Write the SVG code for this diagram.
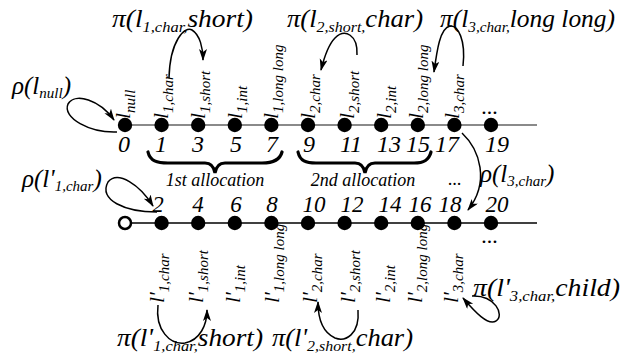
<svg xmlns="http://www.w3.org/2000/svg" width="630" height="354" viewBox="0 0 630 354">
  <style>
    .t { font-family: 'Liberation Serif', 'DejaVu Serif', serif; font-style: italic; fill: #000; }
    .num { font-size: 24px; text-anchor: middle; }
    .numb { font-size: 23px; text-anchor: middle; }
    .lab { font-size: 22px; }
    .big { font-size: 25px; }
    .s { font-size: 15px; }
    .alloc { font-size: 18px; text-anchor: middle; }
    .dot { fill: #000; }
    .arc { fill: none; stroke: #000; stroke-width: 1.5; }
    .brace { fill: none; stroke: #000; stroke-width: 3.2; stroke-linecap: round; }
  </style>
  <defs>
    <marker id="head" markerWidth="14" markerHeight="10" refX="11" refY="4" orient="auto" markerUnits="userSpaceOnUse">
      <path d="M0,0 L12,4 L0,8 L3,4 Z" fill="#000"/>
    </marker>
  </defs>

  <rect width="630" height="354" fill="#fff"/>

  <!-- memory rows -->
  <line x1="125" y1="125" x2="537" y2="125" stroke="#8a8a8a" stroke-width="2"/>
  <line x1="125" y1="223" x2="537" y2="223" stroke="#000" stroke-width="1.5"/>

  <g class="t" font-family="Liberation Serif, DejaVu Serif, serif" font-style="italic">
  <!-- upper row: slots 0..19 -->
  <g id="slot-0"><circle class="dot" cx="125" cy="125" r="7.2"/><text class="num" x="124" y="152">0</text>
    <text class="lab" transform="translate(130,119) rotate(-90)">l<tspan class="s" dy="5">null</tspan></text></g>
  <g id="slot-1"><circle class="dot" cx="161.6" cy="125" r="7.2"/><text class="num" x="161" y="152">1</text>
    <text class="lab" transform="translate(168,119) rotate(-90)">l<tspan class="s" dy="5">1,char</tspan></text></g>
  <g id="slot-3"><circle class="dot" cx="198.2" cy="125" r="7.2"/><text class="num" x="198" y="152">3</text>
    <text class="lab" transform="translate(205,119) rotate(-90)">l<tspan class="s" dy="5">1,short</tspan></text></g>
  <g id="slot-5"><circle class="dot" cx="234.8" cy="125" r="7.2"/><text class="num" x="236" y="152">5</text>
    <text class="lab" transform="translate(242,119) rotate(-90)">l<tspan class="s" dy="5">1,int</tspan></text></g>
  <g id="slot-7"><circle class="dot" cx="271.4" cy="125" r="7.2"/><text class="num" x="272" y="152">7</text>
    <text class="lab" transform="translate(278,119) rotate(-90)">l<tspan class="s" dy="5">1,long long</tspan></text></g>
  <g id="slot-9"><circle class="dot" cx="308" cy="125" r="7.2"/><text class="num" x="309" y="152">9</text>
    <text class="lab" transform="translate(315,119) rotate(-90)">l<tspan class="s" dy="5">2,char</tspan></text></g>
  <g id="slot-11"><circle class="dot" cx="344.6" cy="125" r="7.2"/><text class="num" x="351" y="152">11</text>
    <text class="lab" transform="translate(354,119) rotate(-90)">l<tspan class="s" dy="5">2,short</tspan></text></g>
  <g id="slot-13"><circle class="dot" cx="381.2" cy="125" r="7.2"/><text class="num" x="389" y="152">13</text>
    <text class="lab" transform="translate(391,119) rotate(-90)">l<tspan class="s" dy="5">2,int</tspan></text></g>
  <g id="slot-15"><circle class="dot" cx="417.8" cy="125" r="7.2"/><text class="num" x="418" y="152">15</text>
    <text class="lab" transform="translate(423,119) rotate(-90)">l<tspan class="s" dy="5">2,long long</tspan></text></g>
  <g id="slot-17"><circle class="dot" cx="454.4" cy="125" r="7.2"/><text class="num" x="447" y="152">17</text>
    <text class="lab" transform="translate(459,119) rotate(-90)">l<tspan class="s" dy="5">3,char</tspan></text></g>
  <g id="slot-19"><circle class="dot" cx="491" cy="125" r="7.2"/><text class="num" x="497" y="152">19</text>
    <text class="lab" x="490" y="114" text-anchor="middle">...</text></g>

  <!-- lower row: slots 2..20 -->
  <g id="slot-null"><circle cx="125" cy="223" r="6" fill="#fff" stroke="#000" stroke-width="2.5"/></g>
  <g id="slot-2"><circle class="dot" cx="161.6" cy="223" r="7.2"/><text class="numb" x="158" y="212">2</text>
    <text class="lab" transform="translate(164,303) rotate(-90)">l'<tspan class="s" dy="5">1,char</tspan></text></g>
  <g id="slot-4"><circle class="dot" cx="198.2" cy="223" r="7.2"/><text class="numb" x="198" y="212">4</text>
    <text class="lab" transform="translate(203,303) rotate(-90)">l'<tspan class="s" dy="5">1,short</tspan></text></g>
  <g id="slot-6"><circle class="dot" cx="234.8" cy="223" r="7.2"/><text class="numb" x="236" y="212">6</text>
    <text class="lab" transform="translate(240,303) rotate(-90)">l'<tspan class="s" dy="5">1,int</tspan></text></g>
  <g id="slot-8"><circle class="dot" cx="271.4" cy="223" r="7.2"/><text class="numb" x="272" y="212">8</text>
    <text class="lab" transform="translate(279,303) rotate(-90)">l'<tspan class="s" dy="5">1,long long</tspan></text></g>
  <g id="slot-10"><circle class="dot" cx="308" cy="223" r="7.2"/><text class="numb" x="314" y="212">10</text>
    <text class="lab" transform="translate(317,303) rotate(-90)">l'<tspan class="s" dy="5">2,char</tspan></text></g>
  <g id="slot-12"><circle class="dot" cx="344.6" cy="223" r="7.2"/><text class="numb" x="352" y="212">12</text>
    <text class="lab" transform="translate(355,303) rotate(-90)">l'<tspan class="s" dy="5">2,short</tspan></text></g>
  <g id="slot-14"><circle class="dot" cx="381.2" cy="223" r="7.2"/><text class="numb" x="390" y="212">14</text>
    <text class="lab" transform="translate(390,303) rotate(-90)">l'<tspan class="s" dy="5">2,int</tspan></text></g>
  <g id="slot-16"><circle class="dot" cx="417.8" cy="223" r="7.2"/><text class="numb" x="420" y="212">16</text>
    <text class="lab" transform="translate(422,303) rotate(-90)">l'<tspan class="s" dy="5">2,long long</tspan></text></g>
  <g id="slot-18"><circle class="dot" cx="454.4" cy="223" r="7.2"/><text class="numb" x="450" y="212">18</text>
    <text class="lab" transform="translate(458,303) rotate(-90)">l'<tspan class="s" dy="5">3,char</tspan></text></g>
  <g id="slot-20"><circle class="dot" cx="491" cy="223" r="7.2"/><text class="numb" x="497" y="212">20</text>
    <text class="lab" x="490" y="243" text-anchor="middle">...</text></g>

  <!-- allocation braces -->
  <g id="alloc-1">
    <path class="brace" d="M148,152 C150,161 157,163 168,163 L205,163 C211,163 214,167 215,173 C216,167 219,163 225,163 L262,163 C273,163 280,160 282,152"/>
    <text class="alloc" x="215" y="186">1st allocation</text>
  </g>
  <g id="alloc-2">
    <path class="brace" d="M298,152 C300,161 306,163 316,163 L355,163 C361,163 364,167 365,173 C366,167 369,163 375,163 L414,163 C424,163 429,160 431,152"/>
    <text class="alloc" x="363" y="186">2nd allocation</text>
  </g>
  <text class="alloc" x="455" y="185">...</text>

  <!-- operation labels -->
  <g id="ops">
    <text class="big" x="112" y="27" textLength="141" lengthAdjust="spacingAndGlyphs">π(l<tspan class="s" dy="5">1,char,</tspan><tspan dy="-5">short)</tspan></text>
    <text class="big" x="287" y="27" textLength="136" lengthAdjust="spacingAndGlyphs">π(l<tspan class="s" dy="5">2,short,</tspan><tspan dy="-5">char)</tspan></text>
    <text class="big" x="440" y="27" textLength="175" lengthAdjust="spacingAndGlyphs">π(l<tspan class="s" dy="5">3,char,</tspan><tspan dy="-5">long long)</tspan></text>
    <text class="big" x="12" y="94">ρ(l<tspan class="s" dy="4">null</tspan><tspan dy="-4">)</tspan></text>
    <text class="big" x="22" y="187">ρ(l'<tspan class="s" dy="4">1,char</tspan><tspan dy="-4">)</tspan></text>
    <text class="big" x="480" y="182">ρ(l<tspan class="s" dy="4">3,char</tspan><tspan dy="-4">)</tspan></text>
    <text class="big" x="473" y="296" textLength="147" lengthAdjust="spacingAndGlyphs">π(l'<tspan class="s" dy="5">3,char,</tspan><tspan dy="-5">child)</tspan></text>
    <text class="big" x="117" y="346" textLength="146" lengthAdjust="spacingAndGlyphs">π(l'<tspan class="s" dy="5">1,char,</tspan><tspan dy="-5">short)</tspan></text>
    <text class="big" x="272" y="346" textLength="141" lengthAdjust="spacingAndGlyphs">π(l'<tspan class="s" dy="5">2,short,</tspan><tspan dy="-5">char)</tspan></text>
  </g>
  </g>

  <!-- connectors -->
  <g id="connectors">
    <path class="arc" d="M169,78 C170,40 185,26 192,30 C200,35 203,48 203,60" marker-end="url(#head)"/>
    <path class="arc" d="M357,55 C358,35 345,28 335,38 C328,45 324,58 321,70" marker-end="url(#head)"/>
    <path class="arc" d="M463,66 C466,40 458,25 450,26 C440,28 437,50 434,72" marker-end="url(#head)"/>
    <path class="arc" d="M117,132 C90,133 62,118 68,104 C75,92 100,100 114,120" marker-end="url(#head)" stroke-width="1.8"/>
    <path class="arc" d="M157,212 C125,212 98,200 108,182 C118,170 140,185 153,206" marker-end="url(#head)" stroke-width="1.8"/>
    <path class="arc" d="M462,133 C480,150 490,182 468,210" marker-end="url(#head)"/>
    <path class="arc" d="M158,305 C155,330 170,345 185,343 C200,340 207,325 207,310" marker-end="url(#head)"/>
    <path class="arc" d="M358,310 C360,335 345,342 335,338 C322,332 318,318 318,302" marker-end="url(#head)"/>
    <path class="arc" d="M472,296 C495,295 505,315 496,321 C488,326 475,312 463,298" marker-end="url(#head)"/>
  </g>
</svg>
